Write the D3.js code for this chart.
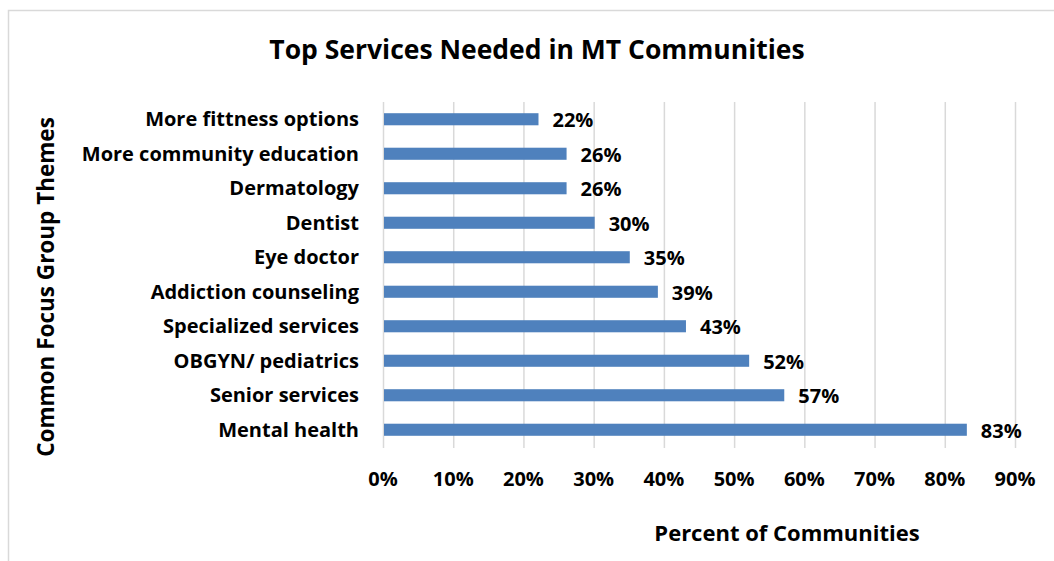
<!DOCTYPE html>
<html><head><meta charset="utf-8">
<script src="https://cdn.jsdelivr.net/npm/d3@7"></script>
<style>body{margin:0;background:#fff}svg{display:block}text{font-family:"Open Sans",sans-serif;font-weight:bold;fill:#000}</style>
</head><body><svg id="c" width="1054" height="561"></svg>
<script>
const categories = ["More fittness options","More community education","Dermatology","Dentist","Eye doctor","Addiction counseling","Specialized services","OBGYN/ pediatrics","Senior services","Mental health"];
const values = [22,26,26,30,35,39,43,52,57,83];
const ticks = [0,10,20,30,40,50,60,70,80,90];
const title = "Top Services Needed in MT Communities";
const xTitle = "Percent of Communities";
const yTitle = "Common Focus Group Themes";

const svg = d3.select("#c");
svg.append("rect").attr("x",8.5).attr("y",10.5).attr("width",1100).attr("height",600).attr("fill","none").attr("stroke","#d9d9d9").attr("stroke-width",1.5);

const pL=383, pR=1015, pT=102, pB=447;
const x = d3.scaleLinear().domain([0,90]).range([pL,pR]);
const y = d3.scaleBand().domain(categories).range([pT,pB]).paddingInner(0.65).paddingOuter(0.325);

svg.append("g").selectAll("line").data(ticks).join("line")
  .attr("x1",d=>x(d)+0.5).attr("x2",d=>x(d)+0.5).attr("y1",pT).attr("y2",pB+1)
  .attr("stroke","#d9d9d9").attr("stroke-width",1.5);

svg.append("g").selectAll("rect").data(values).join("rect")
  .attr("x",x(0)+1).attr("y",(d,i)=>y(categories[i])).attr("width",d=>x(d)-x(0)).attr("height",y.bandwidth())
  .attr("fill","#4f81bd");

svg.append("g").selectAll("text").data(values).join("text")
  .attr("x",d=>x(d)+15).attr("y",(d,i)=>y(categories[i])+y.bandwidth()/2+1).attr("dy","0.35em")
  .attr("font-size",20).text(d=>d+"%");

svg.append("g").selectAll("text").data(categories).join("text")
  .attr("x",359).attr("y",d=>y(d)+y.bandwidth()/2).attr("dy","0.35em").attr("text-anchor","end")
  .attr("font-size",20).text(d=>d);

svg.append("g").selectAll("text").data(ticks).join("text")
  .attr("x",d=>x(d)).attr("y",479).attr("dy","0.35em").attr("text-anchor","middle")
  .attr("font-size",20).text(d=>d+"%");

svg.append("text").attr("x",537).attr("y",50).attr("dy","0.35em").attr("text-anchor","middle").attr("font-size",26.5).text(title);
svg.append("text").attr("x",787).attr("y",533).attr("dy","0.35em").attr("text-anchor","middle").attr("font-size",22).text(xTitle);
svg.append("text").attr("transform","translate(46,287) rotate(-90)").attr("dy","0.35em").attr("text-anchor","middle").attr("font-size",22.5).text(yTitle);
</script></body></html>
